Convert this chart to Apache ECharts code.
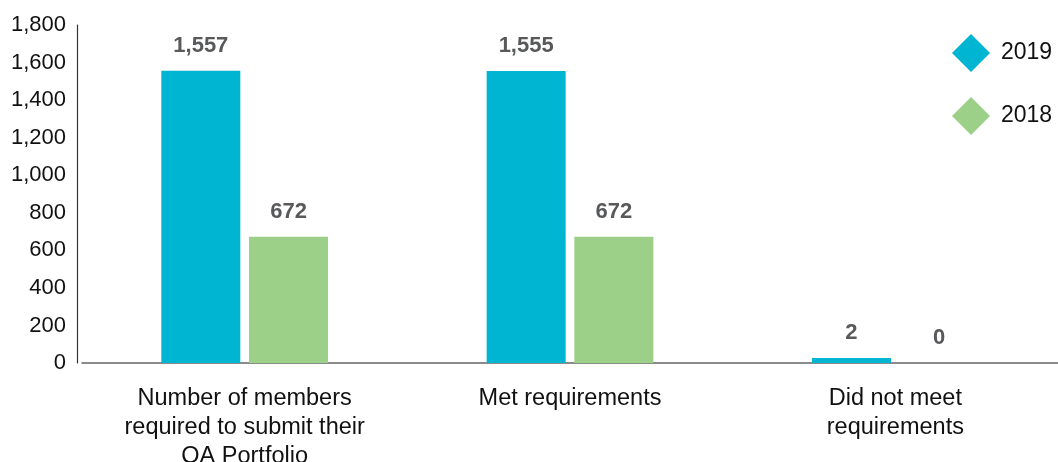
<!DOCTYPE html>
<html>
<head>
<meta charset="utf-8">
<script src="https://cdn.jsdelivr.net/npm/echarts@6/dist/echarts.min.js"></script>
<style>
html,body{margin:0;padding:0;background:#fff;overflow:hidden;}
#chart{width:1058px;height:462px;}
</style>
</head>
<body>
<div id="chart"></div>
<script>
const categories = ["Number of members\nrequired to submit their\nQA Portfolio", "Met requirements", "Did not meet\nrequirements"];
const seriesNames = ["2019", "2018"];
const values2019 = [1557, 1555, 2];
const values2018 = [672, 672, 0];
const yTicks = { min: 0, max: 1800, interval: 200 };

const FONT = "Liberation Sans, Arial, sans-serif";
const chart = echarts.init(document.getElementById('chart'));
const labelStyle = {
  show: true, position: 'top', distance: 14,
  fontFamily: FONT, fontSize: 22, fontWeight: 'bold', color: '#58595b',
  formatter: p => p.value.toLocaleString('en-US')
};
chart.setOption({
  animation: false,
  grid: { left: 82, right: 0, top: 25, height: 338, outerBoundsMode: 'none', containLabel: false },
  legend: {
    orient: 'vertical', left: 952, top: 34, padding: 0,
    itemWidth: 38, itemHeight: 38, itemGap: 25, icon: 'diamond',
    textStyle: { fontFamily: FONT, fontSize: 23, color: '#111', padding: [0, 0, 0, 6] },
    data: seriesNames
  },
  xAxis: {
    type: 'category', data: categories,
    axisLine: { lineStyle: { color: '#666', width: 1.5 } },
    axisTick: { show: false },
    axisLabel: { fontFamily: FONT, fontSize: 23.5, color: '#111', lineHeight: 29, margin: 21, interval: 0 }
  },
  yAxis: {
    type: 'value', min: yTicks.min, max: yTicks.max, interval: yTicks.interval,
    offset: 5,
    axisLine: { show: true, lineStyle: { color: '#333', width: 1.2 } },
    axisTick: { show: false },
    splitLine: { show: false },
    axisLabel: { fontFamily: FONT, fontSize: 22, color: '#111', margin: 11,
      formatter: v => v.toLocaleString('en-US') }
  },
  series: [
    { name: seriesNames[0], type: 'bar', data: values2019, barWidth: 79, barGap: '11%',
      barMinHeight: 5, itemStyle: { color: '#00b5d1' }, label: labelStyle },
    { name: seriesNames[1], type: 'bar', data: values2018, barWidth: 79,
      itemStyle: { color: '#9ccf87' }, label: labelStyle }
  ]
});
</script>
</body>
</html>
